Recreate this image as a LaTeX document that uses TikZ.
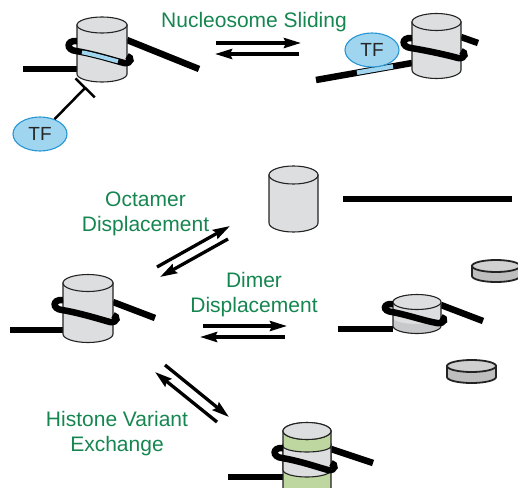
\documentclass[tikz,border=0pt]{standalone}
\usepackage{fontspec}
\setmainfont{Liberation Sans}
\usetikzlibrary{arrows.meta,shapes.geometric}

\definecolor{drumgray}{RGB}{221,222,223}
\definecolor{diskside}{RGB}{190,190,190}
\definecolor{disktop}{RGB}{208,208,208}
\definecolor{shadegray}{RGB}{200,201,202}
\definecolor{outl}{RGB}{35,35,35}
\definecolor{greenside}{RGB}{190,214,160}
\definecolor{tffill}{RGB}{160,213,240}
\definecolor{tfedge}{RGB}{40,150,210}
\definecolor{labelgreen}{RGB}{22,134,80}

% histone drum: centre x, top y, bottom y, x radius, y radius, fill
\newcommand\drum[6]{%
  \filldraw[drumline, fill=#6] (#1-#4,#2) -- (#1-#4,#3)
    arc[start angle=180, end angle=0, x radius=#4, y radius=#5] -- (#1+#4,#2) -- cycle;
  \filldraw[drumline, fill=#6] (#1,#2) ellipse[x radius=#4, y radius=#5];}

% flat H2A/H2B dimer disk
\newcommand\hdisk[5]{%
  \filldraw[diskline, fill=diskside] (#1-#4,#2) -- (#1-#4,#3)
    arc[start angle=180, end angle=0, x radius=#4, y radius=#5] -- (#1+#4,#2) -- cycle;
  \filldraw[diskline, fill=disktop] (#1,#2) ellipse[x radius=#4, y radius=#5];}

% front turn of DNA around a drum: centre x, top of loop y, x radius, drop
\newcommand\wrapdna[4]{%
  \draw[dna] (#1-#3,#2) .. controls (#1-#3-11,#2-1) and (#1-#3-11,#2+9) .. (#1-#3-1,#2+10)
    .. controls (#1-#3+17,#2+13) and (#1+#3-14,#2+#4-3) .. (#1+#3-3,#2+#4)
    .. controls (#1+#3+5,#2+#4+1) and (#1+#3+5,#2+#4-6) .. (#1+#3,#2+#4-7);}

\begin{document}
\begin{tikzpicture}[x=1pt, y=1pt, yscale=-1,
  dna/.style={line width=6.5pt, black},
  drumline/.style={draw=outl, line width=1.1pt},
  diskline/.style={draw=outl, line width=1.8pt},
  arr/.style={line width=3.3pt, -{Stealth[length=17pt, width=10pt, inset=2pt]}},
  inh/.style={line width=2.5pt, -{Bar[width=27pt]}},
  lbl/.style={text=labelgreen, font=\fontsize{21}{25}\selectfont, align=center, inner sep=0pt},
  tf/.style={ellipse, draw=tfedge, fill=tffill, line width=1.1pt, minimum width=54pt,
    minimum height=34pt, inner sep=0pt, text=black!85, font=\fontsize{19}{19}\selectfont}]

\clip (0,0) rectangle (518,487);

% ---- nucleosome with TF site occluded (top left)
\draw[dna] (23,69) -- (77,69);
\draw[dna] (127,40) -- (199,69);
\drum{102}{25}{74}{25}{8}{drumgray}
\wrapdna{102}{41}{25}{22}
\draw[line width=4pt, tffill] (82,52.3) .. controls (94,54.5) and (107,58.5) .. (118,61.3);
\node[tf] (tf1) at (40,134) {TF};
\coordinate (tbar) at (86,87);
\draw[inh] (tf1) -- (tbar);

% ---- slid nucleosome with TF bound (top right)
\draw[dna] (316,80) -- (412,63);
\draw[line width=4.5pt, tffill] (357,72.7) -- (393,66.4);
\draw[dna] (461,37) -- (478,43);
\drum{436.5}{22}{70}{24.5}{8.5}{drumgray}
\wrapdna{436.5}{38}{24.5}{20}
\node[tf] (tf2) at (372,50) {TF};

% ---- sliding arrows and label
\node[lbl, anchor=base] (slide) at (254,28) {Nucleosome Sliding};
\coordinate (s1a) at (216,43); \coordinate (s1b) at (301,43);
\coordinate (s2a) at (299,54); \coordinate (s2b) at (215,54);
\draw[arr] (s1a) -- (s1b);
\draw[arr] (s2a) -- (s2b);

% ---- central nucleosome
\draw[dna] (10,330) -- (63,330);
\draw[dna] (113,302) -- (155,318);
\drum{88}{283}{334}{25}{8.5}{drumgray}
\wrapdna{88}{300}{25}{22}

% ---- octamer displacement
\node[lbl] (octa) at (145.5,213.5) {Octamer\\Displacement};
\coordinate (o1a) at (157,267); \coordinate (o1b) at (230,226);
\coordinate (o2a) at (228,239); \coordinate (o2b) at (160,277);
\draw[arr] (o1a) -- (o1b);
\draw[arr] (o2a) -- (o2b);
\drum{293.5}{175}{223}{24.5}{9}{drumgray}
\draw[line width=5.5pt] (343,199) -- (512,199);

% ---- dimer displacement
\node[lbl] (dimer) at (254,295) {Dimer\\Displacement};
\coordinate (d1a) at (203,326); \coordinate (d1b) at (287,326);
\coordinate (d2a) at (285,337); \coordinate (d2b) at (200,337);
\draw[arr] (d1a) -- (d1b);
\draw[arr] (d2a) -- (d2b);
\draw[dna] (338,329) -- (393,329);
\draw[dna] (441,305) -- (483,321);
\fill[drumgray] (393,302) -- (393,326)
  arc[start angle=180, end angle=0, x radius=24, y radius=7.5] -- (441,302) -- cycle;
\fill[shadegray] (393,318) arc[start angle=180, end angle=0, x radius=24, y radius=6]
  -- (441,326) arc[start angle=0, end angle=180, x radius=24, y radius=7.5] -- cycle;
\draw[drumline] (393,302) -- (393,326)
  arc[start angle=180, end angle=0, x radius=24, y radius=7.5] -- (441,302);
\filldraw[drumline, fill=drumgray] (417,302) ellipse[x radius=24, y radius=7.5];
\draw[dna] (393,304) .. controls (383,303) and (382,311) .. (392,312)
  .. controls (408,315) and (425,321) .. (437,323)
  .. controls (445,324) and (446,318) .. (441,317);
\hdisk{496}{266}{276}{24}{6}
\hdisk{471.5}{366}{377}{24.5}{6}

% ---- histone variant exchange
\node[lbl] (hist) at (117,433.5) {Histone Variant\\Exchange};
\coordinate (h1a) at (165,365); \coordinate (h1b) at (229,417);
\coordinate (h2a) at (217,422); \coordinate (h2b) at (155,372);
\draw[arr] (h1a) -- (h1b);
\draw[arr] (h2a) -- (h2b);
\draw[dna] (228,477) -- (283,477);
\draw[dna] (331,449) -- (373,463);
\drum{307}{431}{500}{24}{8.5}{greenside}
\filldraw[drumline, fill=drumgray] (283,446) arc[start angle=180, end angle=0, x radius=24, y radius=6]
  -- (331,470) arc[start angle=0, end angle=180, x radius=24, y radius=7] -- cycle;
\filldraw[drumline, fill=drumgray] (307,431) ellipse[x radius=24, y radius=8.5];
\wrapdna{307}{448}{24}{22}

\end{tikzpicture}
\end{document}
